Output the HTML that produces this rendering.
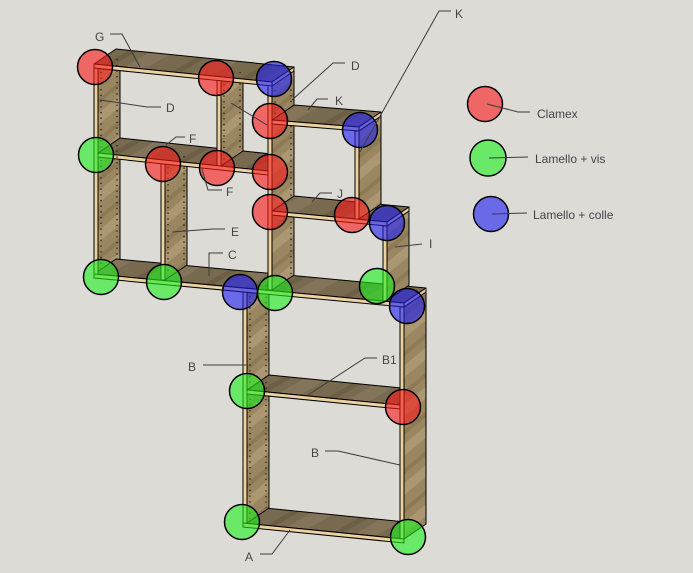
<!DOCTYPE html>
<html><head><meta charset="utf-8"><style>
html,body{margin:0;padding:0;background:#dcdbd6;}
svg{display:block;}
text{font-family:"Liberation Sans",Arial,sans-serif;font-size:12px;fill:#454545;}
</style></head><body>
<svg width="693" height="573" viewBox="0 0 693 573" xmlns="http://www.w3.org/2000/svg">
<defs>
<pattern id="wood" patternUnits="userSpaceOnUse" width="30" height="30" patternTransform="rotate(-40)">
<rect width="30" height="30" fill="#9a8761"/>
<rect y="0" width="30" height="9" fill="#ab9872"/>
<rect y="19" width="30" height="4" fill="#8c7955"/>
</pattern>
<pattern id="top" patternUnits="userSpaceOnUse" width="40" height="40" patternTransform="rotate(-30)">
<rect width="40" height="40" fill="#786a4e"/>
<rect y="0" width="40" height="12" fill="#83745a"/>
<rect y="28" width="40" height="5" fill="#6d5f45"/>
</pattern>
</defs>
<rect width="693" height="573" fill="#dcdbd6"/>

<g stroke="#000" stroke-width="1" stroke-linejoin="round">
<!-- lower block -->
<polygon points="243,523 404,539 426,524 265,508" fill="url(#top)"/>
<polygon points="247,292 269,277 269,508 247,523" fill="url(#wood)"/>
<polygon points="247,390 400,405 422,390 269,375" fill="url(#top)"/>
<polygon points="404,307 426,292 426,524 404,539" fill="url(#wood)"/>
<!-- D face -->
<polygon points="98,68 120,53 120,260 98,275" fill="url(#wood)"/>
<!-- C top -->
<polygon points="94,274 404,303 426,288 116,259" fill="url(#top)"/>
<!-- E face -->
<polygon points="165,164 187,149 187,265 165,280" fill="url(#wood)"/>
<!-- I face -->
<polygon points="387,226 409,211 409,285 387,301" fill="url(#wood)"/>
<!-- F top -->
<polygon points="98,153 268,171 290,156 120,138" fill="url(#top)"/>
<!-- divider face -->
<polygon points="221,80 243,65 243,151 221,166" fill="url(#wood)"/>
<!-- M face -->
<polygon points="272,85 294,70 294,275 272,290" fill="url(#wood)"/>
<!-- G top -->
<polygon points="94,64 272,82 294,67 116,49" fill="url(#top)"/>
<!-- J top -->
<polygon points="272,211 387,222 409,207 294,196" fill="url(#top)"/>
<!-- K right face -->
<polygon points="359,131 381,116 381,204 359,219" fill="url(#wood)"/>
<!-- K top -->
<polygon points="272,120 359,127 381,112 294,105" fill="url(#top)"/>
<!-- end faces -->
<polygon points="272,82 294,67 294,71 272,86" fill="#e6cc9a"/>
<polygon points="359,127 381,112 381,116 359,131" fill="#e6cc9a"/>
<polygon points="387,222 409,207 409,211 387,226" fill="#e6cc9a"/>
<polygon points="404,303 426,288 426,292 404,307" fill="#e6cc9a"/>
</g>

<!-- shelf pin holes -->
<g stroke="#2a2216" stroke-width="1.4" stroke-dasharray="1.3 4.4">
<line x1="250" y1="296" x2="250" y2="519"/><line x1="266" y1="285" x2="266" y2="508"/>
</g>

<g stroke="#000" stroke-width="1" fill="#ecd2a0">
<!-- panel front strips -->
<rect x="94" y="68" width="4" height="207"/>
<rect x="217" y="80" width="4" height="86"/>
<rect x="161" y="164" width="4" height="116"/>
<rect x="268" y="85" width="4" height="205"/>
<rect x="355" y="131" width="4" height="88"/>
<rect x="383" y="226" width="4" height="75"/>
<rect x="243" y="292" width="4" height="231"/>
<rect x="400" y="307" width="4" height="232"/>
<!-- shelf front strips -->
<polygon points="94,64 272,82 272,86 94,68"/>
<polygon points="98,153 268,171 268,175 98,157"/>
<polygon points="94,274 404,303 404,307 94,278"/>
<polygon points="272,120 359,127 359,131 272,124"/>
<polygon points="272,211 387,222 387,226 272,215"/>
<polygon points="247,390 400,405 400,409 247,394"/>
<polygon points="243,523 404,539 404,543 243,527"/>
</g>

<!-- holes on upper panels (drawn clipped visually by order approximation) -->
<g stroke="#2a2216" stroke-width="1.4" stroke-dasharray="1.3 4.4">
<line x1="101" y1="72" x2="101" y2="150"/><line x1="101" y1="160" x2="101" y2="271"/>
<line x1="117" y1="59" x2="117" y2="138"/><line x1="117" y1="145" x2="117" y2="258"/>
<line x1="224" y1="84" x2="224" y2="162"/><line x1="240" y1="72" x2="240" y2="150"/>
<line x1="168" y1="167" x2="168" y2="276"/><line x1="184" y1="156" x2="184" y2="264"/>
<line x1="275" y1="90" x2="275" y2="118"/><line x1="291" y1="78" x2="291" y2="104"/>
<line x1="291" y1="126" x2="291" y2="196"/><line x1="291" y1="216" x2="291" y2="274"/>
</g>

<!-- joint circles -->
<g stroke="#000" stroke-width="1.5">
<g fill="rgb(250,25,25)" fill-opacity="0.6">
<circle cx="95" cy="67" r="17.5"/>
<circle cx="216" cy="78" r="17.5"/>
<circle cx="270" cy="121" r="17.5"/>
<circle cx="163" cy="164" r="17.5"/>
<circle cx="217" cy="168" r="17.5"/>
<circle cx="270" cy="172" r="17.5"/>
<circle cx="270" cy="212" r="17.5"/>
<circle cx="352" cy="215" r="17.5"/>
<circle cx="403" cy="407" r="17.5"/>
</g>
<g fill="rgb(30,240,30)" fill-opacity="0.6">
<circle cx="96" cy="155" r="17.5"/>
<circle cx="101" cy="277" r="17.5"/>
<circle cx="164" cy="282" r="17.5"/>
<circle cx="275" cy="293" r="17.5"/>
<circle cx="377" cy="286" r="17.5"/>
<circle cx="247" cy="391" r="17.5"/>
<circle cx="242" cy="522" r="17.5"/>
<circle cx="408" cy="537" r="17.5"/>
</g>
<g fill="rgb(30,30,243)" fill-opacity="0.6">
<circle cx="274" cy="79" r="17.5"/>
<circle cx="360" cy="130" r="17.5"/>
<circle cx="387" cy="223" r="17.5"/>
<circle cx="240" cy="292" r="17.5"/>
<circle cx="407" cy="306" r="17.5"/>
</g>
<!-- legend -->
<circle cx="485" cy="104" r="17.5" fill="rgb(250,25,25)" fill-opacity="0.6"/>
<circle cx="488" cy="158" r="18" fill="rgb(30,240,30)" fill-opacity="0.6"/>
<circle cx="491" cy="214" r="17.5" fill="rgb(30,30,243)" fill-opacity="0.6"/>
</g>

<!-- leader lines -->
<g stroke="#3c3c3c" stroke-width="1" fill="none">
<polyline points="451,11 439,11 360,152"/>
<polyline points="110,34 122,34 140,67"/>
<polyline points="161,107 147,107 100,100"/>
<polyline points="185,137 176,137 166,145"/>
<polyline points="222,190 208,190 202,169"/>
<polyline points="231,103 267,125"/>
<polyline points="345,63 333,63 292,100"/>
<polyline points="328,99 317,99 308,110"/>
<polyline points="332,193 320,193 312,202"/>
<polyline points="422,244 395,247"/>
<polyline points="225,229 213,229 172,232"/>
<polyline points="223,253 209,253 209,276"/>
<polyline points="203,365 247,365"/>
<polyline points="377,358 365,358 308,395"/>
<polyline points="325,451 338,451 400,465"/>
<polyline points="260,554 272,554 290,530"/>
<polyline points="487,104 518,112 530,112"/>
<polyline points="489,158 528,157"/>
<polyline points="492,214 527,213"/>
</g>

<!-- labels -->
<text x="455" y="18">K</text>
<text x="95" y="41">G</text>
<text x="166" y="112">D</text>
<text x="189" y="143">F</text>
<text x="226" y="196">F</text>
<text x="351" y="70">D</text>
<text x="335" y="105">K</text>
<text x="337" y="198">J</text>
<text x="429" y="248">I</text>
<text x="231" y="236">E</text>
<text x="228" y="259">C</text>
<text x="188" y="371">B</text>
<text x="382" y="364">B1</text>
<text x="311" y="457">B</text>
<text x="245" y="561">A</text>
<text x="537" y="118">Clamex</text>
<text x="535" y="163">Lamello + vis</text>
<text x="533" y="219">Lamello + colle</text>
</svg>
</body></html>
